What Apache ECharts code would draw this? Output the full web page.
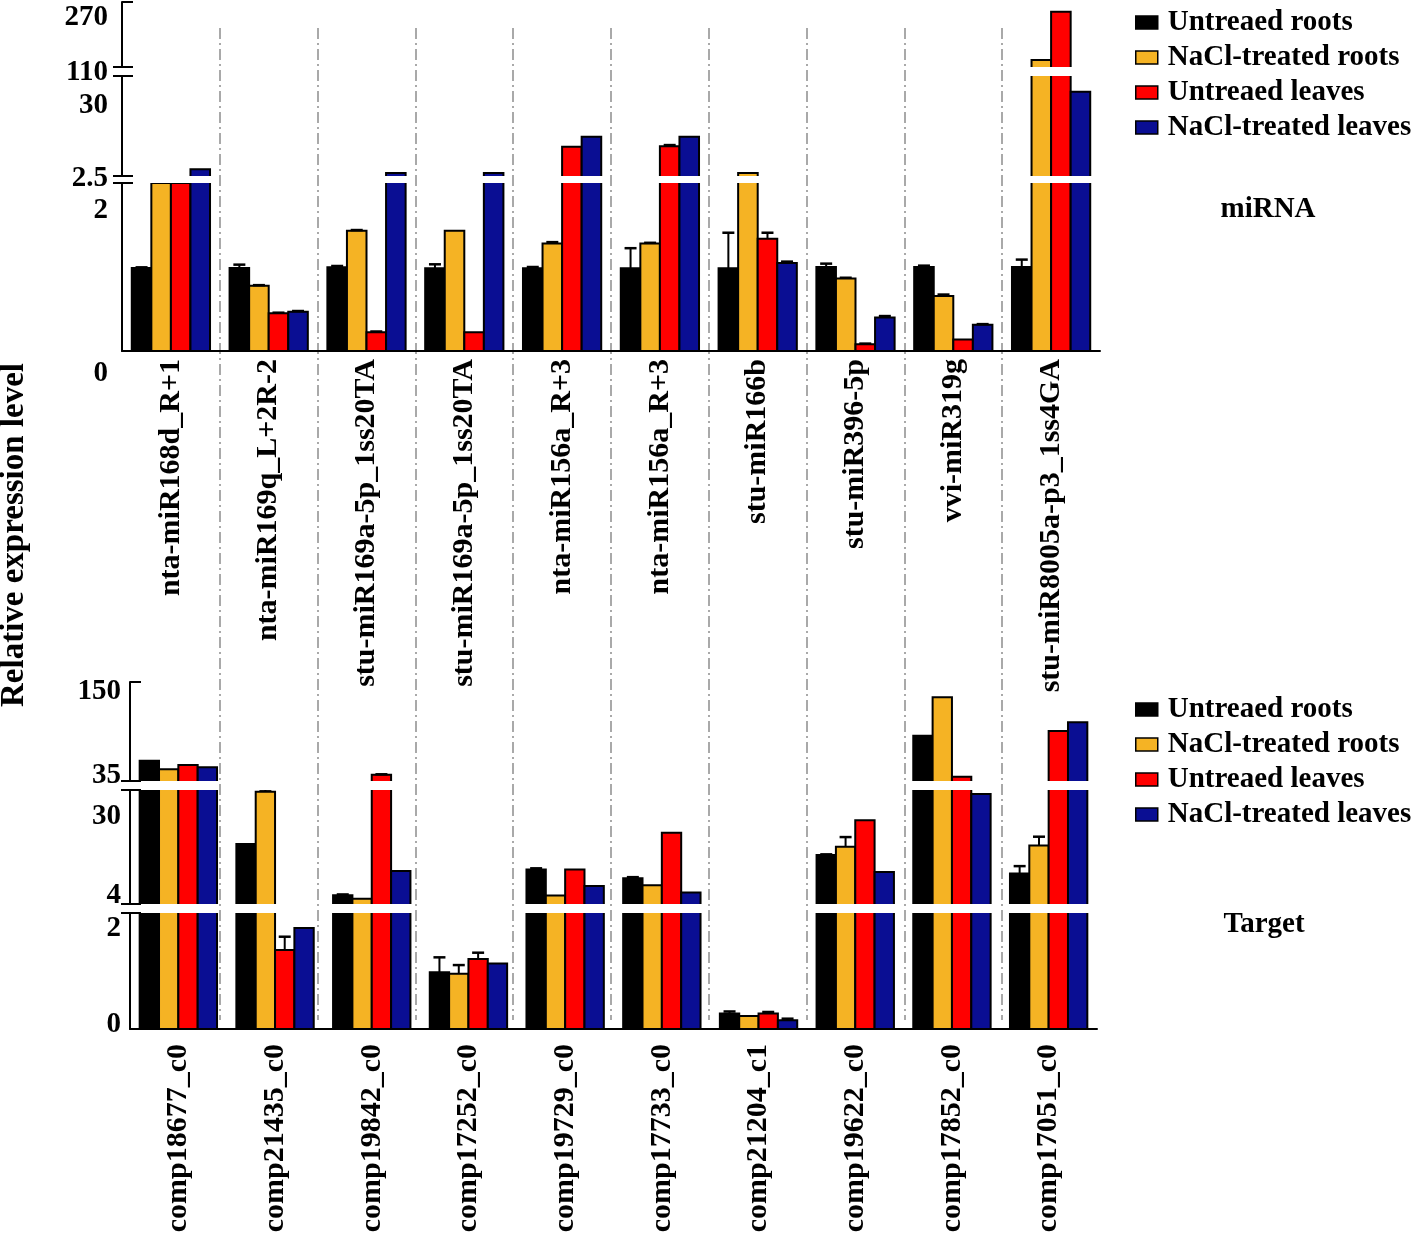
<!DOCTYPE html>
<html>
<head>
<meta charset="utf-8">
<title>miRNA and target expression</title>
<script src="https://cdn.jsdelivr.net/npm/echarts@6/dist/echarts.min.js"></script>
<style>
html, body { margin: 0; padding: 0; background: #fff; }
#main { width: 1418px; height: 1235px; }
</style>
</head>
<body>
<div id="main"></div>
<script>
var myChart = echarts.init(document.getElementById('main'));

var font = '"Liberation Serif", "Times New Roman", serif';

var groups = ['Untreaed roots', 'NaCl-treated roots', 'Untreaed leaves', 'NaCl-treated leaves'];
var colors = ['#000000', '#F5B324', '#FF0000', '#0A0E93'];

// miRNA panel
var mirnas = ['nta-miR168d_R+1', 'nta-miR169q_L+2R-2', 'stu-miR169a-5p_1ss20TA', 'stu-miR169a-5p_1ss20TA',
    'nta-miR156a_R+3', 'nta-miR156a_R+3', 'stu-miR166b', 'stu-miR396-5p', 'vvi-miR319g', 'stu-miR8005a-p3_1ss4GA'];
var mirnaUntreatedRoots = [1.235, 1.235, 1.245, 1.23, 1.23, 1.23, 1.23, 1.25, 1.25, 1.25];
var mirnaNaclRoots      = [2.5, 0.97, 1.79, 1.79, 1.60, 1.60, 3.6, 1.08, 0.82, 127];
var mirnaUntreatedLeaves = [2.5, 0.56, 0.28, 0.28, 13.5, 13.7, 1.67, 0.10, 0.17, 246];
var mirnaNaclLeaves     = [5.0, 0.585, 3.6, 3.6, 17.2, 17.2, 1.31, 0.50, 0.39, 34.1];
var mirnaErrUntreatedRoots = [0.01, 0.05, 0.02, 0.06, 0.02, 0.30, 0.53, 0.05, 0.02, 0.11];
var mirnaErrNaclRoots      = [0, 0.01, 0.01, 0, 0.02, 0.01, 0, 0.01, 0.02, 0];
var mirnaErrUntreatedLeaves = [0, 0.01, 0.01, 0, 0, 0.4, 0.09, 0.01, 0, 0];
var mirnaErrNaclLeaves     = [0, 0.01, 0, 0, 0, 0, 0.02, 0.02, 0.01, 0];
var mirnaRanges = [[0, 2.5], [2.5, 40], [110, 270]];
var mirnaTicks = [0, 2, 2.5, 30, 110, 270];

// target panel
var targets = ['comp18677_c0', 'comp21435_c0', 'comp19842_c0', 'comp17252_c0', 'comp19729_c0',
    'comp17733_c0', 'comp21204_c1', 'comp19622_c0', 'comp17852_c0', 'comp17051_c0'];
var targetUntreatedRoots = [58.6, 20.3, 6.4, 1.10, 13.4, 11.0, 0.30, 17.3, 87.6, 12.3];
var targetNaclRoots      = [48.6, 34.5, 5.4, 1.07, 6.3, 9.1, 0.25, 19.6, 132.3, 19.9];
var targetUntreatedLeaves = [53.6, 1.53, 42.3, 1.36, 13.4, 23.4, 0.30, 26.8, 40.0, 93.1];
var targetNaclLeaves     = [50.9, 1.96, 13.0, 1.27, 8.9, 7.1, 0.17, 12.7, 33.9, 103.2];
var targetErrUntreatedRoots = [0, 0, 0.2, 0.29, 0.3, 0.3, 0.04, 0.2, 0, 2.0];
var targetErrNaclRoots      = [0, 0.6, 0, 0.17, 0, 0, 0, 2.6, 0, 2.4];
var targetErrUntreatedLeaves = [0, 0.26, 0.5, 0.12, 0, 0, 0.03, 0, 0, 0];
var targetErrNaclLeaves     = [0, 0, 0, 0, 0, 0, 0.03, 0, 0, 0];
var targetRanges = [[0, 2.25], [4, 35], [35, 150]];
var targetTicks = [0, 2, 4, 30, 35, 150];

var grids = [], xAxes = [], yAxes = [], series = [];

// bars are custom so the cut at an axis break is clean (clip path, no border at the cut)
function barRenderer(k, lo) {
    return function (params, api) {
        var c = api.value(0), v = api.value(1), e = api.value(2);
        if (v <= lo) return null;
        var band = api.size([1, 0])[0];
        var top = api.coord([c, v]);
        var base = api.coord([c, 0]);
        var w = band * 0.2;
        var x = top[0] + band * (0.2 * k - 0.4);
        var kids = [{
            type: 'rect',
            shape: { x: x, y: top[1], width: w, height: base[1] - top[1] },
            style: { fill: api.visual('color'), stroke: '#000', lineWidth: 2 }
        }];
        if (e > 0) {
            var ye = api.coord([c, v + e])[1];
            var xm = x + w / 2;
            kids.push({ type: 'line', shape: { x1: xm, y1: top[1], x2: xm, y2: ye }, style: { stroke: '#000', lineWidth: 2 } });
            kids.push({ type: 'line', shape: { x1: xm - 6, y1: ye, x2: xm + 6, y2: ye }, style: { stroke: '#000', lineWidth: 2.5 } });
        }
        return { type: 'group', children: kids };
    };
}

function addPanel(p) {
    var rich = {}, richKey = {};
    Object.keys(p.nudge).forEach(function (key, i) {
        var d = p.nudge[key];
        richKey[key] = 'n' + i;
        rich['n' + i] = {
            fontSize: 29, fontWeight: 'bold', fontFamily: font, color: '#000',
            padding: d > 0 ? [2 * d, 0, 0, 0] : [0, 0, -2 * d, 0]
        };
    });
    var n = p.ranges.length;
    for (var s = 0; s < n; s++) {
        var gi = grids.length;
        var lo = p.ranges[s][0], hi = p.ranges[s][1];
        var isBottom = s === 0, isTop = s === n - 1;
        grids.push({ left: p.left, width: p.width, top: p.boxes[s][0], height: p.boxes[s][1], outerBoundsMode: 'none' });
        xAxes.push({
            type: 'category', gridIndex: gi, data: p.names, position: 'bottom',
            axisLine: { show: isBottom, lineStyle: { color: '#000', width: 2 } },
            axisTick: { show: false },
            axisLabel: {
                show: isBottom, rotate: 90, interval: 0, margin: p.xLabelMargin,
                fontSize: 30, fontWeight: 'bold', color: '#000', fontFamily: font,
                padding: [0, 0, p.xLabelShift, 0]
            },
            splitLine: { show: false }
        });
        var labels = p.ticks.filter(function (v) {
            if (v < lo || v > hi) return false;
            for (var t = s + 1; t < n; t++) {
                if (v >= p.ranges[t][0] && v <= p.ranges[t][1]) return false;
            }
            return true;
        });
        var breaks = [];
        if (!isBottom) breaks.push(lo);
        if (!isTop) breaks.push(hi);
        var yi = yAxes.length;
        yAxes.push({
            type: 'value', gridIndex: gi, min: lo, max: hi, position: 'left',
            axisLine: { show: true, lineStyle: { color: '#000', width: 2 } },
            axisTick: { show: true, customValues: breaks, length: 9, lineStyle: { color: '#000', width: 2 } },
            axisLabel: {
                show: labels.length > 0, customValues: labels, margin: p.yLabelMargin,
                fontSize: 29, fontWeight: 'bold', color: '#000', fontFamily: font,
                formatter: function (v) {
                    var key = String(v);
                    return richKey[key] ? '{' + richKey[key] + '|' + key + '}' : key;
                },
                rich: rich
            },
            splitLine: { show: false }
        });
        var inner = breaks.slice();
        if (isTop) inner.push(hi);
        yAxes.push({
            type: 'value', gridIndex: gi, min: lo, max: hi, position: 'left',
            axisLine: { show: false }, axisLabel: { show: false }, splitLine: { show: false },
            axisTick: { show: true, inside: true, customValues: inner, length: 11, lineStyle: { color: '#000', width: 2 } }
        });
        for (var k = 0; k < 4; k++) {
            series.push({
                type: 'custom',
                name: groups[k],
                xAxisIndex: gi,
                yAxisIndex: yi,
                clip: true,
                itemStyle: { color: colors[k] },
                renderItem: barRenderer(k, lo),
                data: p.values[k].map(function (v, i) { return [i, v, p.errors[k][i]]; })
            });
        }
    }
}

addPanel({
    names: mirnas,
    values: [mirnaUntreatedRoots, mirnaNaclRoots, mirnaUntreatedLeaves, mirnaNaclLeaves],
    errors: [mirnaErrUntreatedRoots, mirnaErrNaclRoots, mirnaErrUntreatedLeaves, mirnaErrNaclLeaves],
    ranges: mirnaRanges,
    ticks: mirnaTicks,
    left: 122, width: 978,
    boxes: [[183, 168], [76, 100], [2, 65]],
    xLabelMargin: 8, xLabelShift: 16, yLabelMargin: 14,
    nudge: { '0': 23, '2': -6, '2.5': 3, '30': 3, '110': 6, '270': 16 }
});

addPanel({
    names: targets,
    values: [targetUntreatedRoots, targetNaclRoots, targetUntreatedLeaves, targetNaclLeaves],
    errors: [targetErrUntreatedRoots, targetErrNaclRoots, targetErrUntreatedLeaves, targetErrNaclLeaves],
    ranges: targetRanges,
    ticks: targetTicks,
    left: 130, width: 967,
    boxes: [[913, 116], [790, 114], [682, 99]],
    xLabelMargin: 15, xLabelShift: 12, yLabelMargin: 9,
    nudge: { '0': -4, '2': 3, '4': -8, '30': 8, '35': -5, '150': 10 }
});

// dash-dot separators between the groups, running through both panels
var sepGrid = grids.length;
grids.push({ left: 122, width: 978, top: 28, height: 992, outerBoundsMode: 'none' });
xAxes.push({
    type: 'category', gridIndex: sepGrid, data: mirnas,
    axisLine: { show: false }, axisTick: { show: false }, axisLabel: { show: false, interval: 0 },
    splitLine: {
        show: true, interval: 0, showMinLine: false, showMaxLine: false,
        lineStyle: { color: '#A9A9A9', width: 2, type: [11, 4, 2, 4] }
    }
});
yAxes.push({ type: 'value', gridIndex: sepGrid, show: false, splitLine: { show: false } });

var legendBase = {
    orient: 'vertical', left: 1130, itemWidth: 22, itemHeight: 13, itemGap: 6, icon: 'rect',
    itemStyle: { borderColor: '#000', borderWidth: 1.5 },
    textStyle: { fontSize: 29, fontWeight: 'bold', color: '#000', fontFamily: font, padding: [0, 0, 0, 5] },
    data: groups, selectedMode: false
};

option = {
    animation: false,
    backgroundColor: '#fff',
    textStyle: { fontFamily: font },
    grid: grids,
    xAxis: xAxes,
    yAxis: yAxes,
    legend: [
        Object.assign({ top: 3 }, legendBase),
        Object.assign({ top: 690 }, legendBase)
    ],
    graphic: [
        { type: 'text', x: 14, y: 535, rotation: Math.PI / 2,
          style: { text: 'Relative expression level', fontSize: 33, fontWeight: 'bold', fontFamily: font, fill: '#000', align: 'center', verticalAlign: 'middle' } },
        { type: 'text', x: 1268, y: 210,
          style: { text: 'miRNA', fontSize: 29, fontWeight: 'bold', fontFamily: font, fill: '#000', align: 'center', verticalAlign: 'middle' } },
        { type: 'text', x: 1264, y: 925,
          style: { text: 'Target', fontSize: 29, fontWeight: 'bold', fontFamily: font, fill: '#000', align: 'center', verticalAlign: 'middle' } }
    ],
    series: series
};

myChart.setOption(option);
</script>
</body>
</html>
